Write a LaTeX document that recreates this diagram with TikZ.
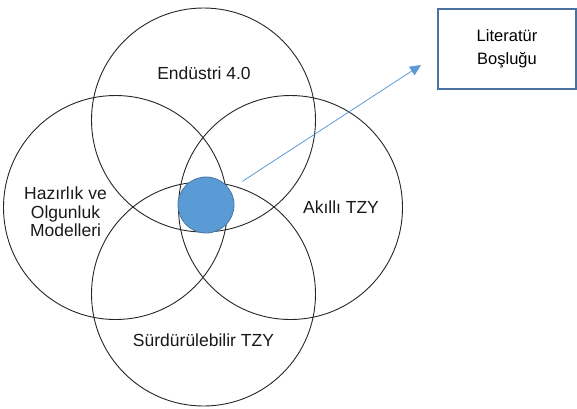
\documentclass[tikz,border=0pt]{standalone}
\usepackage{fontspec}
\setmainfont{Liberation Sans}
\usetikzlibrary{arrows.meta}
\definecolor{gapblue}{RGB}{91,155,213}
\definecolor{gapedge}{RGB}{72,118,165}
\definecolor{boxedge}{RGB}{74,114,160}
\tikzset{
  area/.style={draw=black!85,line width=0.9pt,circle,minimum size=224pt,inner sep=0pt},
  lab/.style={font=\fontsize{17.5}{18.5}\selectfont,align=center,text=black!90},
  gapdot/.style={circle,fill=gapblue,draw=gapedge,line width=0.8pt,minimum size=56pt,inner sep=0pt},
  litbox/.style={draw=boxedge,line width=1.6pt,fill=white,minimum width=138pt,minimum height=80pt,
    font=\fontsize{16.5}{23}\selectfont,align=center},
  link/.style={draw=gapblue,line width=0.8pt,-{Triangle[length=11pt,width=10pt]}},
}
\begin{document}
\begin{tikzpicture}[x=1pt,y=-1pt]
  \useasboundingbox (0,0) rectangle (577,408);
  % four overlapping areas
  \node[area] (endustri) at (203.5,120) {};
  \node[area] (hazirlik) at (115.5,207.5) {};
  \node[area] (akilli) at (290.5,207.5) {};
  \node[area] (surdur) at (203.5,294) {};
  % their labels
  \node[lab] (endustrilab) at (204,73) {Endüstri 4.0};
  \node[lab] (hazirliklab) at (65.5,212) {Hazırlık ve\\Olgunluk\\Modelleri};
  \node[lab] (akillilab) at (341,207) {Akıllı TZY};
  \node[lab] (surdurlab) at (203.5,340) {Sürdürülebilir TZY};
  % common part and the box it points to
  \node[gapdot] (gap) at (206,205) {};
  \node[litbox] (bosluk) at (507,49) {Literatür\\Boşluğu};
  \coordinate (tip) at (421,65);
  \draw[link,shorten <=15pt] (gap) -- (tip);
\end{tikzpicture}
\end{document}
